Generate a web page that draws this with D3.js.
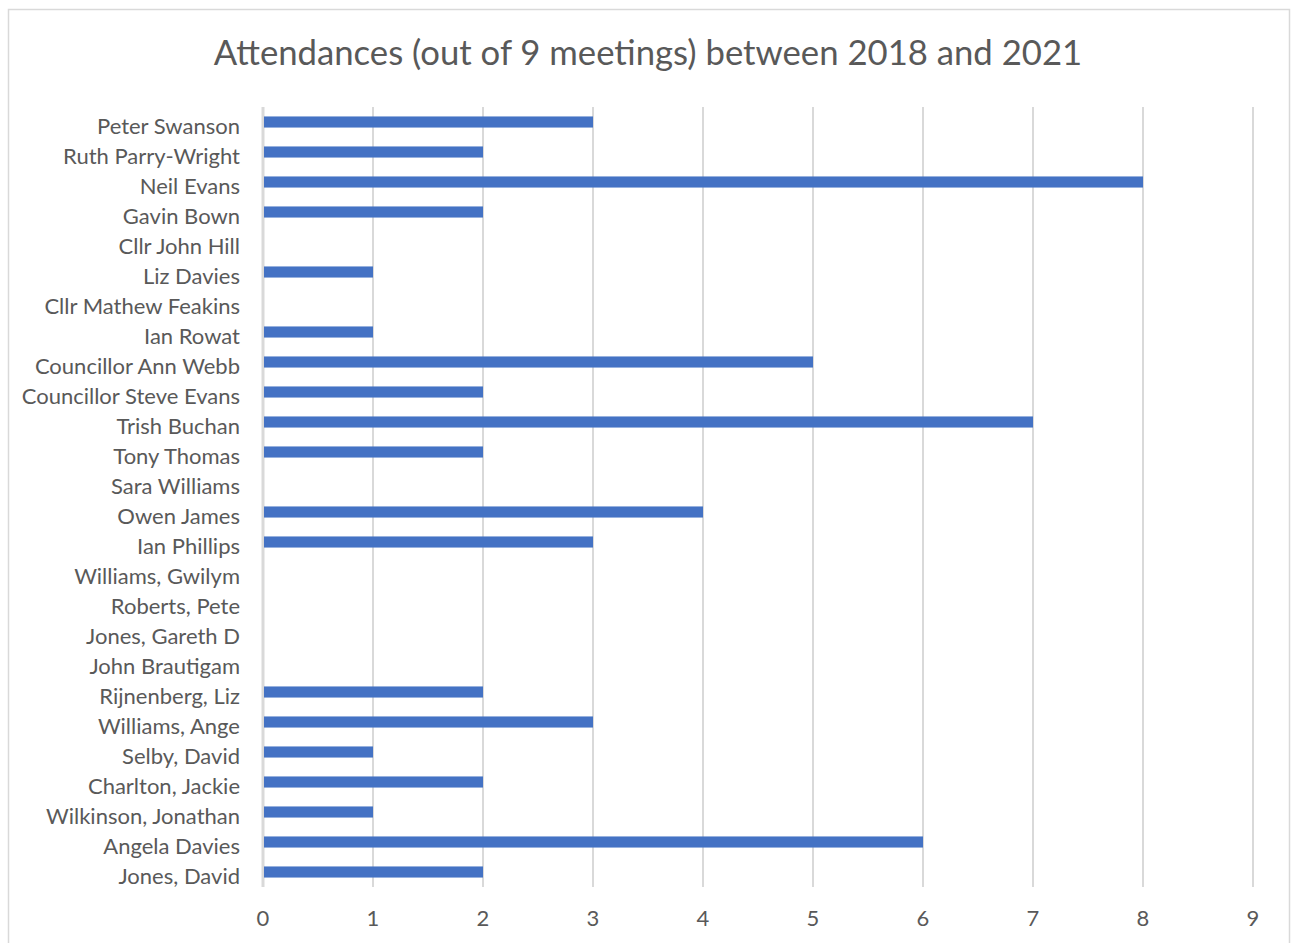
<!DOCTYPE html>
<html lang="en">
  <head>
    <meta charset="utf-8" />
    <title>Attendances</title>
    <script src="https://cdnjs.cloudflare.com/ajax/libs/d3/7.8.5/d3.min.js"></script>
    <style type="text/css">
      body { margin: 0; background: #fff; }
      text { font-family: Lato, "Open Sans", sans-serif; fill: #595959; }
    </style>
  </head>

  <body>
    <div id="chart"></div>
    <script>
      const names = [
        'Peter Swanson', 'Ruth Parry-Wright', 'Neil Evans', 'Gavin Bown',
        'Cllr John Hill', 'Liz Davies', 'Cllr Mathew Feakins', 'Ian Rowat',
        'Councillor Ann Webb', 'Councillor Steve Evans', 'Trish Buchan',
        'Tony Thomas', 'Sara Williams', 'Owen James', 'Ian Phillips',
        'Williams, Gwilym', 'Roberts, Pete', 'Jones, Gareth D', 'John Brautigam',
        'Rijnenberg, Liz', 'Williams, Ange', 'Selby, David', 'Charlton, Jackie',
        'Wilkinson, Jonathan', 'Angela Davies', 'Jones, David'
      ];
      const attendances = [3, 2, 8, 2, 0, 1, 0, 1, 5, 2, 7, 2, 0, 4, 3, 0, 0, 0, 0, 2, 3, 1, 2, 1, 6, 2];
      const xTicks = [0, 1, 2, 3, 4, 5, 6, 7, 8, 9];
      const title = 'Attendances (out of 9 meetings) between 2018 and 2021';

      const width = 1296, height = 943;
      const margin = { top: 107, right: 43, bottom: 56, left: 263 };

      const svg = d3.select('#chart')
        .append('svg')
        .attr('width', width)
        .attr('height', height);

      svg.append('rect')
        .attr('x', 8.5).attr('y', 9.5)
        .attr('width', 1281).attr('height', 945)
        .attr('fill', 'none')
        .attr('stroke', '#d9d9d9')
        .attr('stroke-width', 1.5);

      svg.append('text')
        .attr('x', 648).attr('y', 65)
        .attr('text-anchor', 'middle')
        .attr('font-size', 34.7)
        .text(title);

      const x = d3.scaleLinear()
        .domain([0, 9])
        .range([margin.left, width - margin.right]);

      const y = d3.scaleBand()
        .domain(names)
        .range([margin.top, height - margin.bottom])
        .paddingInner(0.63)
        .paddingOuter(0.315);

      // gridlines
      svg.append('g')
        .selectAll('line')
        .data(xTicks)
        .join('line')
          .attr('x1', d => x(d)).attr('x2', d => x(d))
          .attr('y1', margin.top).attr('y2', height - margin.bottom)
          .attr('stroke', '#d9d9d9')
          .attr('stroke-width', d => d === 0 ? 3 : 2);

      svg.append('g')
        .selectAll('rect')
        .data(names)
        .join('rect')
          .attr('x', x(0) + 1)
          .attr('y', d => y(d))
          .attr('width', (d, i) => Math.max(0, x(attendances[i]) - x(0) - 1))
          .attr('height', y.bandwidth())
          .attr('fill', '#4472c4');

      // y labels
      svg.append('g')
        .selectAll('text')
        .data(names)
        .join('text')
          .attr('x', 240)
          .attr('y', d => y(d) + y.bandwidth() / 2 + 4)
          .attr('dy', '0.35em')
          .attr('text-anchor', 'end')
          .attr('font-size', 22)
          .text(d => d);

      // x labels
      svg.append('g')
        .selectAll('text')
        .data(xTicks)
        .join('text')
          .attr('x', d => x(d))
          .attr('y', 926)
          .attr('text-anchor', 'middle')
          .attr('font-size', 22)
          .text(d => d);
    </script>
  </body>
</html>
